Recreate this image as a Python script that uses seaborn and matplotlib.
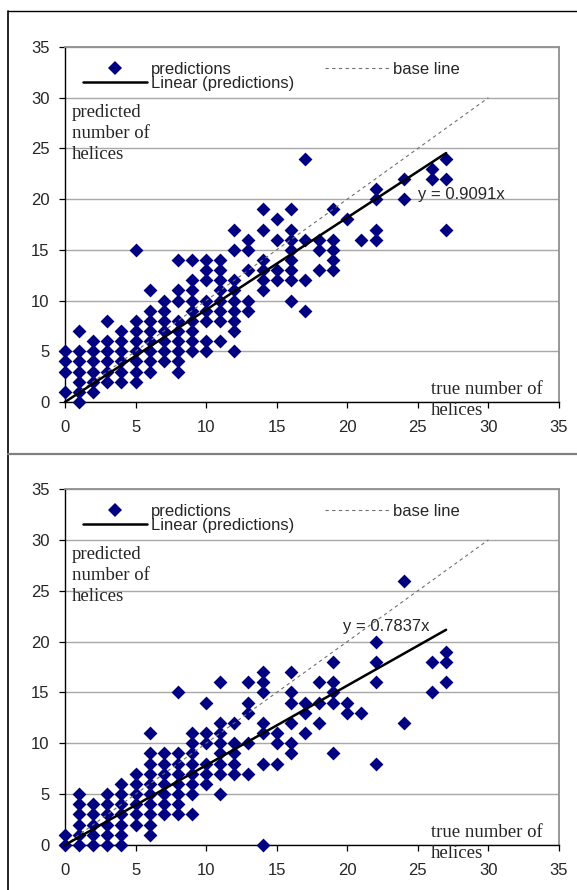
import matplotlib
matplotlib.use("Agg")
import matplotlib.pyplot as plt
from matplotlib.lines import Line2D
import numpy as np
import pandas as pd
import seaborn as sns

# top chart: true number of helices and the predictions seen at each value
top_true = [0, 1, 2, 3, 4, 5, 6, 7, 8, 9, 10, 11, 12, 13, 14, 15, 16, 17, 18, 19, 20, 21, 22, 24, 26, 27]
top_pred = [
    [5, 4, 3, 1],
    [7, 5, 4, 3, 2, 1, 0],
    [6, 5, 4, 3, 2, 1],
    [8, 6, 5, 4, 3, 2],
    [7, 6, 5, 4, 3, 2],
    [15, 8, 7, 6, 5, 4, 3, 2],
    [11, 9, 8, 7, 6, 5, 4, 3],
    [10, 9, 8, 7, 6, 5, 4],
    [14, 11, 10, 8, 7, 6, 5, 4, 3],
    [14, 12, 11, 10, 9, 8, 7, 6, 5],
    [14, 13, 12, 10, 9, 8, 6, 5],
    [14, 13, 12, 11, 10, 9, 8, 6],
    [17, 15, 12, 11, 10, 9, 8, 7, 5],
    [16, 15, 13, 10, 9],
    [19, 17, 14, 13, 12, 11],
    [18, 16, 13, 12],
    [19, 17, 16, 15, 14, 13, 12, 10],
    [24, 16, 12, 9],
    [16, 15, 13],
    [19, 16, 15, 14, 13],
    [18],
    [16],
    [21, 20, 17, 16],
    [22, 20],
    [23, 22],
    [24, 22, 17],
]
top_slope = 0.9091

# bottom chart
bottom_true = [0, 1, 2, 3, 4, 5, 6, 7, 8, 9, 10, 11, 12, 13, 14, 15, 16, 17, 18, 19, 20, 21, 22, 24, 26, 27]
bottom_pred = [
    [1, 0],
    [5, 4, 3, 2, 1, 0],
    [4, 3, 2, 1, 0],
    [5, 4, 3, 2, 1, 0],
    [6, 5, 4, 3, 2, 1, 0],
    [7, 6, 5, 4, 3, 2],
    [11, 9, 8, 7, 6, 5, 4, 3, 2, 1],
    [9, 8, 7, 6, 5, 4, 3],
    [15, 9, 8, 7, 6, 5, 4, 3],
    [11, 10, 9, 8, 7, 6, 5, 3],
    [14, 11, 10, 8, 7, 6],
    [16, 12, 11, 10, 9, 8, 7, 5],
    [12, 10, 9, 8, 7],
    [16, 14, 13, 10, 7],
    [17, 16, 15, 12, 11, 8, 0],
    [11, 10, 8],
    [17, 15, 14, 12, 10, 9],
    [14, 13, 11],
    [16, 14, 12],
    [18, 16, 15, 14, 9],
    [14, 13],
    [13],
    [20, 18, 16, 8],
    [26, 12],
    [18, 15],
    [19, 18, 16],
]
bottom_slope = 0.7837

base_line = [0, 30]
ticks = [0, 5, 10, 15, 20, 25, 30, 35]

NAVY = "#000080"

sns.set_style("white")
plt.rcParams["font.family"] = ["Liberation Sans", "DejaVu Sans"]


def draw_panel(ax, true_vals, pred_cols, slope, eq_pos):
    df = pd.DataFrame(
        [(t, p) for t, col in zip(true_vals, pred_cols) for p in col],
        columns=["true", "pred"],
    )
    sns.scatterplot(data=df, x="true", y="pred", marker="D", s=50, color=NAVY,
                    linewidth=0, clip_on=False, legend=False, zorder=3, ax=ax)

    # trend line through origin and the y = x base line
    xs = np.array([0, max(true_vals)])
    ax.plot(xs, slope * xs, color="black", lw=1.8, zorder=5, clip_on=False)
    ax.plot(base_line, base_line, color="#707070", lw=0.8, ls=(0, (3, 3)), zorder=4)

    ax.set_xlim(0, 35)
    ax.set_ylim(0, 35)
    ax.set_xticks(ticks)
    ax.set_yticks(ticks)
    ax.set_xlabel("")
    ax.set_ylabel("")
    ax.yaxis.grid(True, color="#a8a8a8", lw=1.0)
    ax.set_axisbelow(True)
    for side in ["left", "bottom"]:
        ax.spines[side].set_color("black")
        ax.spines[side].set_linewidth(1.0)
    for side in ["top", "right"]:
        ax.spines[side].set_color("#909090")
        ax.spines[side].set_linewidth(1.3)
    ax.tick_params(axis="both", direction="out", length=4, width=0.9,
                   color="black", labelsize=12, bottom=True, left=True)
    ax.tick_params(axis="x", pad=9)
    ax.tick_params(axis="y", pad=7)

    ax.text(0.5, 29.4, "predicted\nnumber of\nhelices", ha="left", va="top",
            family="Liberation Serif", fontsize=13.5, linespacing=1.3)
    ax.text(25.9, 2.1, "true number of\nhelices", ha="left", va="top",
            family="Liberation Serif", fontsize=13.5, linespacing=1.35, clip_on=False)
    ax.text(eq_pos[0], eq_pos[1], f"y = {slope}x", ha="left", va="center", fontsize=12)

    handles = [
        Line2D([], [], marker="D", ls="", color=NAVY, ms=6.8, mew=0),
        Line2D([], [], color="black", lw=1.8),
        Line2D([], [], color="#707070", lw=0.8, ls=(0, (3, 3))),
    ]
    labels = ["predictions", "Linear (predictions)", "base line"]
    ax.legend(handles, labels, ncol=2, loc="upper left", bbox_to_anchor=(0.036, 0.959),
              frameon=False, fontsize=12, handlelength=3.85, handletextpad=0.24,
              columnspacing=1.85, labelspacing=-0.05, borderpad=0, borderaxespad=0,
              numpoints=1)


fig = plt.figure(figsize=(5.77, 8.90), dpi=100)
ax_top = fig.add_axes([65 / 577, 1 - 402 / 890, 494 / 577, 355 / 890])
ax_bot = fig.add_axes([65 / 577, 1 - 845 / 890, 494 / 577, 356 / 890])

draw_panel(ax_top, top_true, top_pred, top_slope, (25.0, 20.45))
draw_panel(ax_bot, bottom_true, bottom_pred, bottom_slope, (19.7, 21.45))

# outer chart frames
fig.add_artist(Line2D([8 / 577, 1], [1 - 11 / 890] * 2, transform=fig.transFigure,
                      color="black", lw=1.0))
fig.add_artist(Line2D([8 / 577] * 2, [0, 1 - 11 / 890], transform=fig.transFigure,
                      color="black", lw=1.2))
fig.add_artist(Line2D([8 / 577, 1], [1 - 454 / 890] * 2, transform=fig.transFigure,
                      color="#808080", lw=1.6))

fig.savefig("out.png", dpi=100)
